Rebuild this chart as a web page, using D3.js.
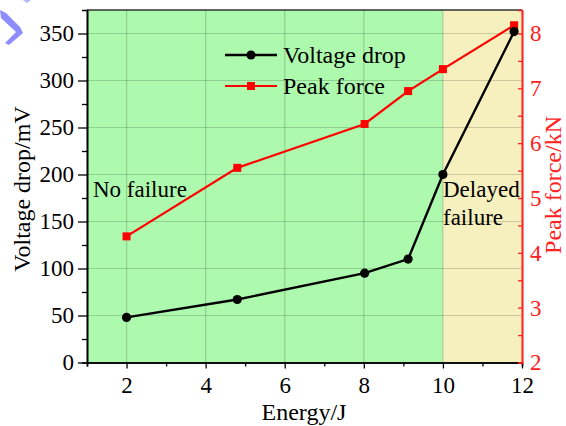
<!DOCTYPE html>
<html lang="en">
<head>
<meta charset="UTF-8">
<title>Voltage drop and peak force vs energy</title>
<script src="https://cdn.jsdelivr.net/npm/d3@7"></script>
<style>
  body { margin: 0; background: #fff; }
  svg text { font-family: "Liberation Serif", "Times New Roman", serif; }
</style>
</head>
<body>
<svg id="chart" width="566" height="426"></svg>
<script>
// data
var energy = [2, 4.8, 8.02, 9.12, 10, 11.8];
var voltageDrop = [48, 67, 95, 110, 200, 352];
var peakForce = [4.3, 5.55, 6.35, 6.95, 7.35, 8.15];
var xTicks = [2, 4, 6, 8, 10, 12];
var yLeftTicks = [0, 50, 100, 150, 200, 250, 300, 350];
var yRightTicks = [2, 3, 4, 5, 6, 7, 8];
var zones = [
  { from: 1, to: 10, color: "#adf9ad" },
  { from: 10, to: 12, color: "#f5f0bd" }
];

var svg = d3.select("#chart");
// plot box (note: "top" is taken by window.top, so use other names)
var pLeft = 87, pRight = 522, pTop = 10, pBottom = 362.5;

var x = d3.scaleLinear().domain([1, 12]).range([pLeft, pRight]);
var yL = d3.scaleLinear().domain([0, 375]).range([pBottom, pTop]);
var yR = d3.scaleLinear().domain([2, 2 + 6 * 375 / 350]).range([pBottom, pTop]);
var fmt = d3.format("d");

// stray blue mark in the corner
svg.append("path")
  .attr("d", "M0,10 L6,13 L20,27 L23,33 L9,45 L5,43 L16,32 L1,18 Z")
  .attr("fill", "#8d8dff");
svg.append("path")
  .attr("d", "M23,0 L31,0 L27,3 Z")
  .attr("fill", "#b5b5ff");

// background zones
svg.selectAll("rect.zone").data(zones).enter().append("rect")
  .attr("class", "zone")
  .attr("x", function (d) { return x(d.from); })
  .attr("y", pTop)
  .attr("width", function (d) { return x(d.to) - x(d.from); })
  .attr("height", pBottom - pTop)
  .attr("fill", function (d) { return d.color; });

// grid
var grid = svg.append("g").attr("stroke", "#000").attr("stroke-opacity", 0.17).attr("stroke-width", 1.2);
grid.selectAll("line.gx").data(xTicks.slice(0, -1)).enter().append("line")
  .attr("x1", function (d) { return x(d); }).attr("x2", function (d) { return x(d); })
  .attr("y1", pTop).attr("y2", pBottom);
grid.selectAll("line.gy").data(yLeftTicks.slice(1)).enter().append("line")
  .attr("x1", pLeft).attr("x2", pRight)
  .attr("y1", function (d) { return yL(d); }).attr("y2", function (d) { return yL(d); });

// top frame
svg.append("line").attr("x1", pLeft).attr("x2", pRight).attr("y1", pTop).attr("y2", pTop)
  .attr("stroke", "#333").attr("stroke-width", 1.5);

// axes
function styleAxis(g, color, size) {
  g.attr("font-family", null);
  g.select(".domain").attr("stroke", color).attr("stroke-width", 1.6);
  g.selectAll(".tick line").attr("stroke", color).attr("stroke-width", 1.3);
  g.selectAll("text").attr("fill", color).attr("font-size", size);
}

var xMinor = svg.append("g").attr("transform", "translate(0," + pBottom + ")")
  .call(d3.axisBottom(x).tickValues([1, 3, 5, 7, 9, 11]).tickSize(4).tickFormat(""));
styleAxis(xMinor, "#000", 23);
var xAxis = svg.append("g").attr("transform", "translate(0," + pBottom + ")")
  .call(d3.axisBottom(x).tickValues(xTicks).tickFormat(fmt).tickSize(6).tickPadding(8).tickSizeOuter(0));
styleAxis(xAxis, "#000", 23);

var yMinor = svg.append("g").attr("transform", "translate(" + pLeft + ",0)")
  .call(d3.axisLeft(yL).tickValues(d3.range(25, 375, 50)).tickSize(5).tickFormat(""));
styleAxis(yMinor, "#000", 23);
var yAxis = svg.append("g").attr("transform", "translate(" + pLeft + ",0)")
  .call(d3.axisLeft(yL).tickValues(yLeftTicks).tickFormat(fmt).tickSize(9).tickPadding(4).tickSizeOuter(0));
styleAxis(yAxis, "#000", 23);

var rMinor = svg.append("g").attr("transform", "translate(" + pRight + ",0)")
  .call(d3.axisRight(yR).tickValues([2.5, 3.5, 4.5, 5.5, 6.5, 7.5]).tickSize(-4).tickFormat(""));
styleAxis(rMinor, "#ff2020", 23);
var rAxis = svg.append("g").attr("transform", "translate(" + pRight + ",0)")
  .call(d3.axisRight(yR).tickValues(yRightTicks).tickFormat(fmt).tickSize(-4).tickPadding(8).tickSizeOuter(0));
styleAxis(rAxis, "#ff2020", 23);

// axis titles
svg.append("text").attr("x", 304).attr("y", 420).attr("text-anchor", "middle")
  .attr("font-size", 24).text("Energy/J");
svg.append("text").attr("transform", "translate(30,189) rotate(-90)").attr("text-anchor", "middle")
  .attr("font-size", 24).text("Voltage drop/mV");
svg.append("text").attr("transform", "translate(561,185) rotate(-90)").attr("text-anchor", "middle")
  .attr("font-size", 24).attr("fill", "#ff2020").text("Peak force/kN");

// series
var voltPts = energy.map(function (e, i) { return [x(e), yL(voltageDrop[i])]; });
var forcePts = energy.map(function (e, i) { return [x(e), yR(peakForce[i])]; });

svg.append("path").attr("d", d3.line()(forcePts))
  .attr("fill", "none").attr("stroke", "#ff0000").attr("stroke-width", 2.2);
svg.selectAll("rect.fm").data(forcePts).enter().append("rect")
  .attr("class", "fm")
  .attr("x", function (d) { return d[0] - 4; }).attr("y", function (d) { return d[1] - 4; })
  .attr("width", 8).attr("height", 8).attr("fill", "#ff0000");

svg.append("path").attr("d", d3.line()(voltPts))
  .attr("fill", "none").attr("stroke", "#000").attr("stroke-width", 2.4);
svg.selectAll("circle.vm").data(voltPts).enter().append("circle")
  .attr("class", "vm")
  .attr("cx", function (d) { return d[0]; }).attr("cy", function (d) { return d[1]; })
  .attr("r", 4.6).attr("fill", "#000");

// legend
var legend = svg.append("g");
legend.append("line").attr("x1", 225).attr("x2", 277).attr("y1", 55).attr("y2", 55)
  .attr("stroke", "#000").attr("stroke-width", 2.4);
legend.append("circle").attr("cx", 251).attr("cy", 55).attr("r", 4.6).attr("fill", "#000");
legend.append("text").attr("x", 283).attr("y", 63).attr("font-size", 24).text("Voltage drop");
legend.append("line").attr("x1", 225).attr("x2", 277).attr("y1", 86).attr("y2", 86)
  .attr("stroke", "#ff0000").attr("stroke-width", 2.2);
legend.append("rect").attr("x", 247).attr("y", 82).attr("width", 8).attr("height", 8).attr("fill", "#ff0000");
legend.append("text").attr("x", 283).attr("y", 94).attr("font-size", 24).text("Peak force");

// zone labels
svg.append("text").attr("x", 93).attr("y", 197).attr("font-size", 23).text("No failure");
svg.append("text").attr("x", 443).attr("y", 197).attr("font-size", 23).text("Delayed");
svg.append("text").attr("x", 443).attr("y", 225).attr("font-size", 23).text("failure");
</script>
</body>
</html>
